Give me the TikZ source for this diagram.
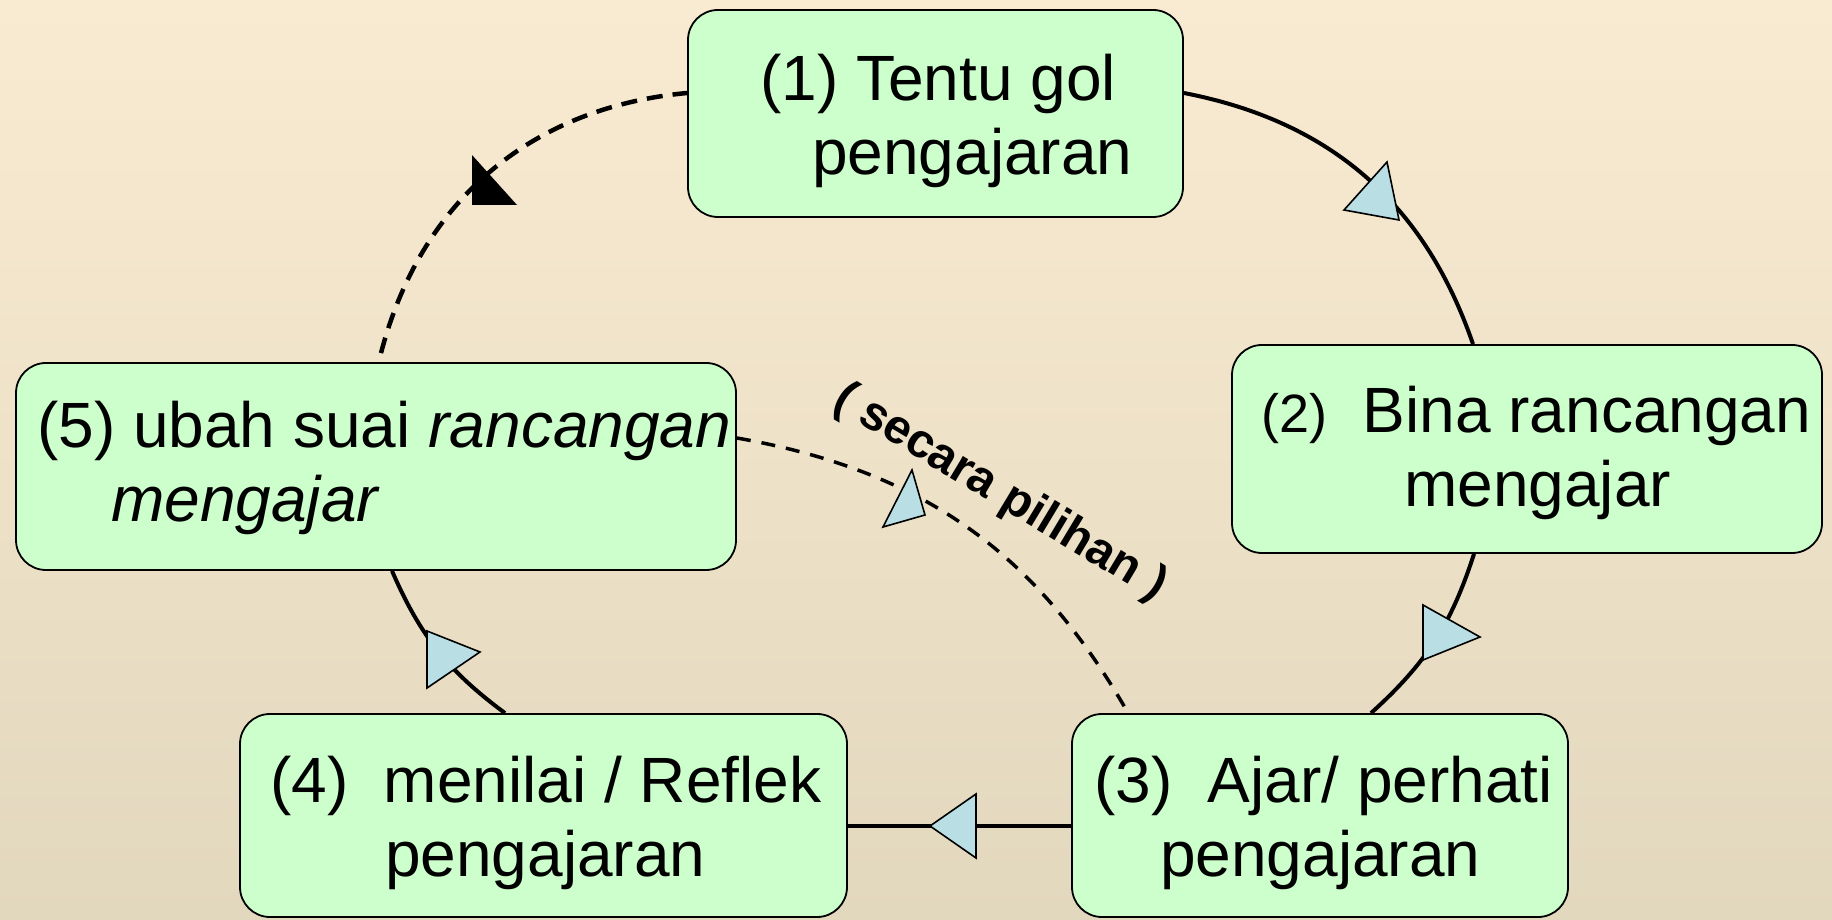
\documentclass[tikz,border=0pt]{standalone}
\usepackage{fontspec}
\setmainfont{Liberation Sans}
\definecolor{boxfill}{RGB}{204,255,204}
\definecolor{tricol}{RGB}{185,223,229}
\definecolor{bgtop}{RGB}{249,235,210}
\definecolor{bgmid}{RGB}{243,236,216}
\definecolor{bgbot}{RGB}{226,216,190}
\begin{document}
\begin{tikzpicture}[x=1pt,y=1pt,
  box/.style={draw=black, line width=1.8pt, fill=boxfill, rounded corners=30pt, inner sep=0pt},
  lbl/.style={anchor=base west, inner sep=0pt, font=\fontsize{64}{74}\selectfont},
  conn/.style={line width=4pt},
  dconn/.style={line width=4.5pt, dash pattern=on 16pt off 10pt},
  dconnb/.style={line width=3.5pt, dash pattern=on 14pt off 11pt},
  tri/.style={draw=black, line width=1.6pt, fill=tricol, line join=miter}]
\shade[top color=bgtop, middle color=bgmid, bottom color=bgbot] (0,0) rectangle (1832,919);
\useasboundingbox (0,0) rectangle (1832,919);

% boxes
\node[box, minimum width=495pt, minimum height=207pt] (b1) at (935.5,805.5) {};
\node[box, minimum width=590pt, minimum height=208pt] (b2) at (1527,470) {};
\node[box, minimum width=496pt, minimum height=203pt] (b3) at (1320,103.5) {};
\node[box, minimum width=607pt, minimum height=203pt] (b4) at (543.5,103.5) {};
\node[box, minimum width=720pt, minimum height=207pt] (b5) at (376,452.5) {};

% texts
\node[lbl] (t1a) at (760,818) {(1) Tentu gol};
\node[lbl] (t1b) at (812,744) {pengajaran};
\node[lbl] (t2a) at (1261,486) {{\fontsize{54}{60}\selectfont(2)}\ \ Bina rancangan};
\node[lbl] (t2b) at (1404,412) {mengajar};
\node[lbl] (t3a) at (1094,117) {(3)\ \ Ajar/ perhati};
\node[lbl] (t3b) at (1160,43) {pengajaran};
\node[lbl] (t4a) at (270,117) {(4)\ \ menilai / Reflek};
\node[lbl] (t4b) at (385,43) {pengajaran};
\node[lbl] (t5a) at (37,471) {(5) ubah suai \textit{rancangan}};
\node[lbl] (t5b) at (111,397) {\textit{mengajar}};

\node[font=\bfseries\fontsize{48}{52}\selectfont, rotate=-31, inner sep=0pt] (sp) at (1000,426) {( secara pilihan )};

% connectors
\draw[conn] ([yshift=20.5pt]b1.east) to[bend left=30] ([xshift=-54pt]b2.north);
\draw[conn] ([xshift=-53pt]b2.south) to[bend left=15] ([xshift=51pt]b3.north);
\draw[conn] ([yshift=-10.5pt]b3.west) -- ([yshift=-10.5pt]b4.east);
\draw[conn] ([xshift=-38.5pt]b4.north) to[bend left=15] ([xshift=16pt]b5.south);
\draw[dconn] ([xshift=5pt,yshift=9pt]b5.north) to[bend left=35] ([yshift=20.5pt]b1.west);
\draw[dconnb] ([yshift=28.5pt]b5.east) to[bend left=25] ([xshift=-193pt,yshift=2pt]b3.north);

% arrow triangles
\draw[tri] (1387,757) -- (1344,709) -- (1399,699) -- cycle;
\draw[tri] (1423,314) -- (1480,282) -- (1423,259) -- cycle;
\draw[tri] (930,93) -- (976,125) -- (976,61) -- cycle;
\draw[tri] (427,288) -- (480,267) -- (427,231) -- cycle;
\draw[tri] (912,449) -- (883,392) -- (925,404) -- cycle;
\fill[black] (472,764) -- (472,714) -- (517,714) -- cycle;
\end{tikzpicture}
\end{document}
